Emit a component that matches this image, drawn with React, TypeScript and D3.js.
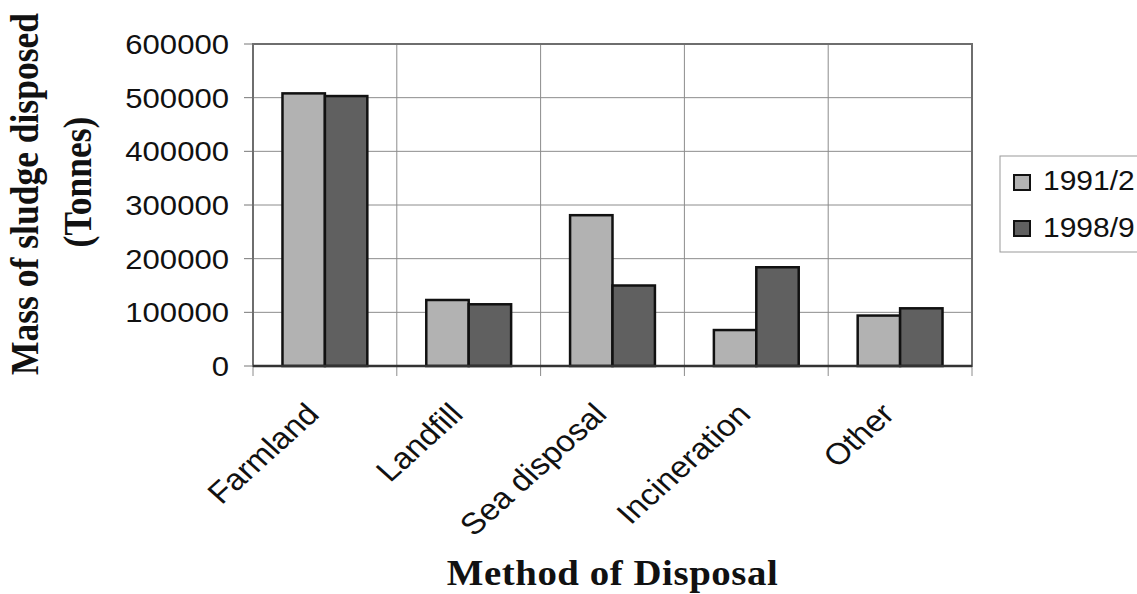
import React from "react";
import * as d3 from "d3";

// Sludge disposal by method, two survey years
const categories = ["Farmland", "Landfill", "Sea disposal", "Incineration", "Other"];
const seriesNames = ["1991/2", "1998/9"];
const values1991 = [508000, 123000, 281000, 67000, 94000];
const values1998 = [503000, 115000, 150000, 184000, 107500];
const yTicks = [0, 100000, 200000, 300000, 400000, 500000, 600000];
const seriesColors = ["#b2b2b2", "#606060"];

const W = 1137;
const H = 594;
const plot = { left: 253, right: 972, top: 44, bottom: 366 };
const SX = 1.11; // horizontal text stretch

export default function App() {
  const x0 = d3.scaleBand<string>().domain(categories).range([plot.left, plot.right]).padding(0);
  const bw = x0.bandwidth();
  const gap = bw * 0.205;
  const x1 = d3.scaleBand<string>().domain(seriesNames).range([gap, bw - gap]).padding(0);
  const y = d3.scaleLinear().domain([0, 600000]).range([plot.bottom, plot.top]);

  const rows = categories.map((c, i) => ({ cat: c, vals: [values1991[i], values1998[i]] }));
  const boundaries = d3.range(categories.length + 1).map((i) => plot.left + i * bw);

  const sans = "'Liberation Sans', Arial, sans-serif";
  const serif = "'Liberation Serif', 'Times New Roman', serif";

  return (
    <svg width={W} height={H} style={{ position: "absolute", left: 0, top: 0, background: "#fff" }}>
      {/* horizontal gridlines */}
      {yTicks.map((t) => (
        <line key={"g" + t} x1={plot.left} x2={plot.right} y1={y(t)} y2={y(t)} stroke="#8c8c8c" strokeWidth={1} />
      ))}
      {/* vertical gridlines at category boundaries */}
      {boundaries.map((bx, i) => (
        <line key={"v" + i} x1={bx} x2={bx} y1={plot.top} y2={plot.bottom + 10} stroke="#8c8c8c" strokeWidth={1} />
      ))}
      {/* y ticks */}
      {yTicks.map((t) => (
        <line key={"t" + t} x1={plot.left - 9} x2={plot.left} y1={y(t)} y2={y(t)} stroke="#777" strokeWidth={1} />
      ))}

      {/* bars */}
      {rows.map((r) => (
        <g key={r.cat} transform={`translate(${x0(r.cat)},0)`}>
          {r.vals.map((v, k) => (
            <rect
              key={k}
              x={x1(seriesNames[k])}
              y={y(v)}
              width={x1.bandwidth()}
              height={y(0) - y(v)}
              fill={seriesColors[k]}
              stroke="#111"
              strokeWidth={2.5}
            />
          ))}
        </g>
      ))}

      {/* plot frame */}
      <rect
        x={plot.left}
        y={plot.top}
        width={plot.right - plot.left}
        height={plot.bottom - plot.top}
        fill="none"
        stroke="#6e6e6e"
        strokeWidth={2}
      />
      <line x1={plot.left} x2={plot.right} y1={plot.bottom} y2={plot.bottom} stroke="#333" strokeWidth={2.5} />

      {/* y tick labels */}
      {yTicks.map((t) => (
        <text
          key={"l" + t}
          transform={`translate(${229},${y(t) + 10}) scale(${SX},1)`}
          textAnchor="end"
          fontFamily={sans}
          fontSize={28}
          fill="#111"
        >
          {t}
        </text>
      ))}

      {/* category labels */}
      {categories.map((c) => (
        <text
          key={"c" + c}
          transform={`translate(${(x0(c) as number) + bw / 2 - 4},${416}) scale(${SX},1) rotate(-45)`}
          textAnchor="end"
          fontFamily={sans}
          fontSize={30}
          fill="#111"
        >
          {c}
        </text>
      ))}

      {/* axis titles */}
      <text
        transform={`translate(38,194) scale(${SX},1) rotate(-90)`}
        textAnchor="middle"
        fontFamily={serif}
        fontWeight="bold"
        fontSize={35.5}
        fill="#111"
      >
        Mass of sludge disposed
      </text>
      <text
        transform={`translate(91,182) scale(${SX},1) rotate(-90)`}
        textAnchor="middle"
        fontFamily={serif}
        fontWeight="bold"
        fontSize={35.5}
        fill="#111"
      >
        (Tonnes)
      </text>
      <text
        transform={`translate(${(plot.left + plot.right) / 2},585) scale(${SX},1)`}
        textAnchor="middle"
        fontFamily={serif}
        fontWeight="bold"
        fontSize={35}
        letterSpacing={0.5}
        fill="#111"
      >
        Method of Disposal
      </text>

      {/* legend */}
      <rect x={1000} y={156} width={160} height={96} fill="#fff" stroke="#999" strokeWidth={1} />
      {seriesNames.map((s, k) => (
        <g key={"lg" + s}>
          <rect x={1014} y={175 + k * 46} width={16} height={15} fill={seriesColors[k]} stroke="#111" strokeWidth={2} />
          <text
            transform={`translate(1043,${190 + k * 47}) scale(${SX},1)`}
            fontFamily={sans}
            fontSize={27}
            fill="#111"
          >
            {s}
          </text>
        </g>
      ))}
    </svg>
  );
}
